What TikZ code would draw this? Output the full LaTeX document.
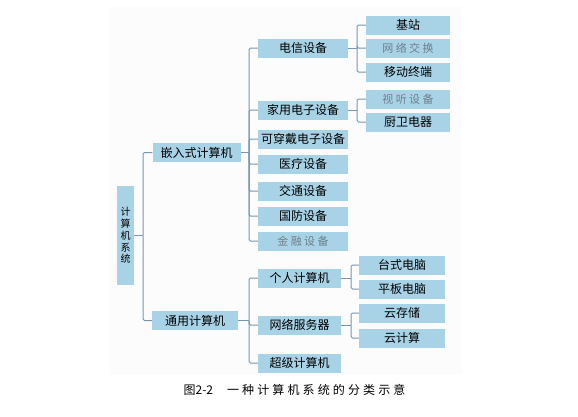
\documentclass[tikz,border=0pt]{standalone}
\usepackage{fontspec}
\setmainfont{Noto Sans CJK SC}
\newfontfamily\cjkspaced[LetterSpace=22]{Noto Sans CJK SC}
\newfontfamily\capfont[LetterSpace=26]{Noto Sans CJK SC}
\definecolor{boxblue}{HTML}{A8D3E6}
\definecolor{linkgray}{HTML}{7896AC}
\definecolor{softtext}{HTML}{6E7F8C}
\definecolor{panel}{HTML}{FCFCFC}
\tikzset{
  cbox/.style={fill=boxblue, inner sep=0pt, minimum height=19pt, font=\fontsize{12}{12}\selectfont},
  lvone/.style={cbox, minimum width=88pt},
  lvtwo/.style={cbox, minimum width=90pt},
  lvtwob/.style={cbox, minimum width=83pt},
  lvthree/.style={cbox, minimum width=84pt},
  lvthreeb/.style={cbox, minimum width=86pt},
  link/.style={draw=linkgray, line width=1pt, rounded corners=1.5pt}
}
\newcommand{\fadedtxt}[1]{\textcolor{softtext}{\cjkspaced\fontsize{11}{11}\selectfont #1}}
\begin{document}
\begin{tikzpicture}[x=1pt, y=-1pt]
\useasboundingbox (0,0) rectangle (578,416);
\fill[panel] (110,7) rectangle (462,375);

% root
\node[fill=boxblue, minimum width=17pt, minimum height=99pt, inner sep=0pt,
      align=center, font=\fontsize{10}{11.8}\selectfont] (root) at (125.5,235.5)
      {计\\算\\机\\系\\统};

% first level
\node[lvone] (emb) at (196.5,152.5) {嵌入式计算机};
\node[lvone, minimum width=86pt] (gen) at (195,320.5) {通用计算机};

% embedded branch
\node[lvtwo] (tele) at (303,48) {电信设备};
\node[lvtwo] (home) at (303,110) {家用电子设备};
\node[lvtwo] (wear) at (303,139) {可穿戴电子设备};
\node[lvtwo] (med)  at (303,164) {医疗设备};
\node[lvtwo] (traf) at (303,191) {交通设备};
\node[lvtwo] (def)  at (303,216) {国防设备};
\node[lvtwo] (fin)  at (303,241) {\fadedtxt{金融设备}};

% general-purpose branch
\node[lvtwob] (pc)   at (299.5,278) {个人计算机};
\node[lvtwob] (srv)  at (299.5,325) {网络服务器};
\node[lvtwob] (sup)  at (299.5,363) {超级计算机};

% third level
\node[lvthree] (base) at (408,25) {基站};
\node[lvthree] (swi)  at (408,48) {\fadedtxt{网络交换}};
\node[lvthree] (mob)  at (408,72) {移动终端};
\node[lvthree] (av)   at (408,99) {\fadedtxt{视听设备}};
\node[lvthree] (kit)  at (408,122) {厨卫电器};

\node[lvthreeb] (desk) at (402,265) {台式电脑};
\node[lvthreeb] (tab)  at (402,289) {平板电脑};
\node[lvthreeb] (stor) at (402,313) {云存储};
\node[lvthreeb] (comp) at (402,338) {云计算};

% junction points of the tree
\coordinate (j0) at (143,235.5);
\coordinate (j1) at (249,152.5);
\coordinate (j2) at (249,320.5);
\coordinate (j3) at (357,48);
\coordinate (j4) at (357,110);
\coordinate (j5) at (351,278);
\coordinate (j6) at (351,325);

% connectors
\draw[link] (root.east) -- (j0);
\foreach \c in {emb,gen} \draw[link] (j0) |- (\c.west);
\draw[link] (emb.east) -- (j1);
\foreach \c in {tele,home,wear,med,traf,def,fin} \draw[link] (j1) |- (\c.west);
\draw[link] (gen.east) -- (j2);
\foreach \c in {pc,srv,sup} \draw[link] (j2) |- (\c.west);
\draw[link] (tele.east) -- (j3);
\foreach \c in {base,swi,mob} \draw[link] (j3) |- (\c.west);
\draw[link] (home.east) -- (j4);
\foreach \c in {av,kit} \draw[link] (j4) |- (\c.west);
\draw[link] (pc.east) -- (j5);
\foreach \c in {desk,tab} \draw[link] (j5) |- (\c.west);
\draw[link] (srv.east) -- (j6);
\foreach \c in {stor,comp} \draw[link] (j6) |- (\c.west);

% caption
\node[font=\fontsize{12}{12}\selectfont, inner sep=0pt] (cap) at (294.5,390)
  {图2-2\hspace{14pt}{\capfont 一种计算机系统的分类示意}};
\end{tikzpicture}
\end{document}
